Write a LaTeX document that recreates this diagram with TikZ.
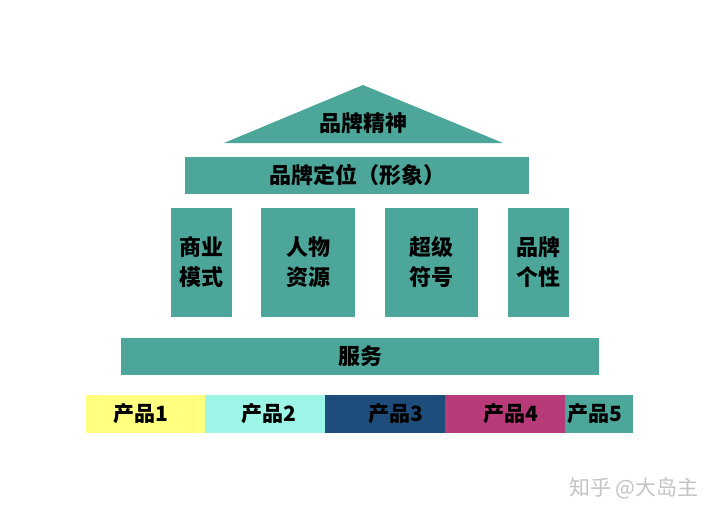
\documentclass[tikz,border=0pt]{standalone}
\usepackage{fontspec}
\newfontfamily\cjk{Noto Sans CJK SC}
\definecolor{brandteal}{RGB}{77,166,154}
\definecolor{goodsyellow}{RGB}{255,255,128}
\definecolor{goodsaqua}{RGB}{156,245,230}
\definecolor{goodsblue}{RGB}{30,77,123}
\definecolor{goodsrose}{RGB}{184,58,120}
\definecolor{markgray}{RGB}{195,195,195}
\tikzset{
  block/.style={fill=brandteal, inner sep=0pt, align=center,
    font=\cjk\bfseries\fontsize{22}{30}\selectfont},
  pillar/.style={block, minimum height=109pt},
  goods/.style={inner sep=0pt, minimum height=38pt,
    font=\cjk\bfseries\fontsize{21}{24}\selectfont},
}
\begin{document}
\begin{tikzpicture}[x=1pt,y=-1pt]
  \useasboundingbox (0,0) rectangle (720,517);
  % roof
  \fill[brandteal] (224,143) -- (363,85) -- (503,143) -- cycle;
  \node[font=\cjk\bfseries\fontsize{22}{24}\selectfont] (spirit) at (363,123) {品牌精神};
  \node[block, minimum width=344pt, minimum height=37pt] (position) at (357,175.5) {品牌定位（形象）};
  % pillars
  \node[pillar, minimum width=61pt] (model) at (201.5,262.5) {商业\\模式};
  \node[pillar, minimum width=94pt] (people) at (308,262.5) {人物\\资源};
  \node[pillar, minimum width=93pt] (symbol) at (431.5,262.5) {超级\\符号};
  \node[pillar, minimum width=61pt] (persona) at (538.5,262.5) {品牌\\个性};
  % base
  \node[block, minimum width=478pt, minimum height=37pt] (service) at (360,356.5) {服务};
  % products
  \node[goods, fill=goodsyellow, minimum width=119pt] (prod1) at (145.5,414) {\hspace{-9pt}产品1};
  \node[goods, fill=goodsaqua, minimum width=120pt] (prod2) at (265,414) {\hspace{8pt}产品2};
  \node[goods, fill=goodsblue, minimum width=120pt] (prod3) at (385,414) {\hspace{22pt}产品3};
  \node[goods, fill=goodsrose, minimum width=120pt] (prod4) at (505,414) {\hspace{12pt}产品4};
  \node[goods, fill=brandteal, minimum width=68pt] (prod5) at (599,414) {\hspace{-8pt}产品5};
  % watermark
  \node[text=markgray, font=\cjk\fontsize{21}{24}\selectfont] (mark) at (634,488) {知乎 @大岛主};
\end{tikzpicture}
\end{document}
